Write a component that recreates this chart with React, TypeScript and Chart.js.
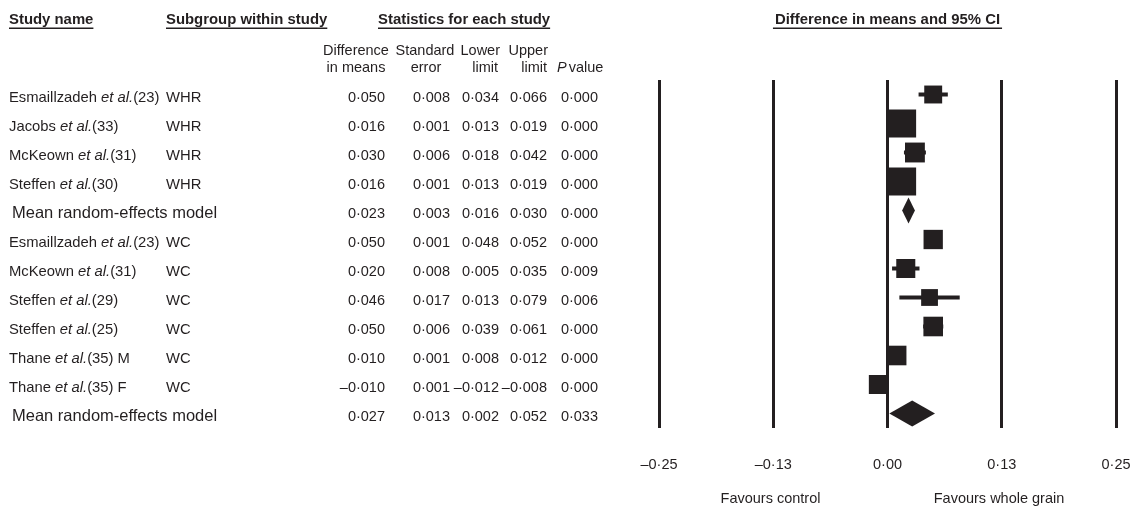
import React, { useEffect, useRef } from "react";
import { Chart, registerables } from "chart.js";

Chart.register(...registerables);

// ---------- data ----------
const studyAuthors = ["Esmaillzadeh", "Jacobs", "McKeown", "Steffen", "", "Esmaillzadeh", "McKeown", "Steffen", "Steffen", "Thane", "Thane", ""];
const studyRefs = ["(23)", "(33)", "(31)", "(30)", "", "(23)", "(31)", "(29)", "(25)", "(35) M", "(35) F", ""];
const subgroups = ["WHR", "WHR", "WHR", "WHR", "", "WC", "WC", "WC", "WC", "WC", "WC", ""];
const isSummary = [false, false, false, false, true, false, false, false, false, false, false, true];
const summaryLabel = "Mean random-effects model";
const diffMeans = [0.05, 0.016, 0.03, 0.016, 0.023, 0.05, 0.02, 0.046, 0.05, 0.01, -0.01, 0.027];
const stdErrors = [0.008, 0.001, 0.006, 0.001, 0.003, 0.001, 0.008, 0.017, 0.006, 0.001, 0.001, 0.013];
const lowerLimits = [0.034, 0.013, 0.018, 0.013, 0.016, 0.048, 0.005, 0.013, 0.039, 0.008, -0.012, 0.002];
const upperLimits = [0.066, 0.019, 0.042, 0.019, 0.03, 0.052, 0.035, 0.079, 0.061, 0.012, -0.008, 0.052];
const pValues = [0.0, 0.0, 0.0, 0.0, 0.0, 0.0, 0.009, 0.006, 0.0, 0.0, 0.0, 0.033];
// relative study weight (box size relative to the largest box)
const relativeWeights = [0.64, 1, 0.71, 1, 0, 0.69, 0.68, 0.6, 0.7, 0.7, 0.68, 0];

const xTickValues = [-0.25, -0.125, 0, 0.125, 0.25];
const xTickLabels = ["\u20130\u00b725", "\u20130\u00b713", "0\u00b700", "0\u00b713", "0\u00b725"];
const favourLabels = ["Favours control", "Favours whole grain"];
const favourAnchors = [-0.128, 0.122];

const FONT = '"Liberation Sans", Arial, Helvetica, sans-serif';
const INK = "#231f20";
const FS = 14.5;

function fmt(v: number): string {
  const s = Math.abs(v).toFixed(3).replace(".", "\u00b7");
  return v < 0 ? "\u2013" + s : s;
}

const forestPlugin = {
  id: "forestPlugin",
  beforeDatasetsDraw(chart: any) {
    const { ctx, scales } = chart;
    const xs = scales.x;
    const ys = scales.y;
    ctx.save();
    ctx.fillStyle = INK;
    ctx.strokeStyle = INK;
    for (let i = 0; i < diffMeans.length; i++) {
      const yp = ys.getPixelForValue(i);
      if (isSummary[i]) {
        const yt = ys.getPixelForValue(i - 0.45);
        const yb = ys.getPixelForValue(i + 0.45);
        ctx.beginPath();
        ctx.moveTo(xs.getPixelForValue(lowerLimits[i]), yp);
        ctx.lineTo(xs.getPixelForValue(diffMeans[i]), yt);
        ctx.lineTo(xs.getPixelForValue(upperLimits[i]), yp);
        ctx.lineTo(xs.getPixelForValue(diffMeans[i]), yb);
        ctx.closePath();
        ctx.fill();
      } else {
        ctx.lineWidth = 4;
        ctx.beginPath();
        ctx.moveTo(xs.getPixelForValue(lowerLimits[i]), yp);
        ctx.lineTo(xs.getPixelForValue(upperLimits[i]), yp);
        ctx.stroke();
      }
    }
    ctx.restore();
  },
  afterDraw(chart: any) {
    const { ctx, scales } = chart;
    const xs = scales.x;
    const ys = scales.y;
    ctx.save();
    ctx.fillStyle = INK;
    ctx.textBaseline = "alphabetic";

    // headers
    const bold = `bold 14.9px ${FONT}`;
    const reg = `${FS}px ${FONT}`;
    const nameReg = `14.8px ${FONT}`;
    const nameItal = `italic 14.8px ${FONT}`;
    const ital = `italic ${FS}px ${FONT}`;
    const headerUnderline = (text: string, x: number, align: "left" | "center", extra = 0) => {
      ctx.font = bold;
      ctx.textAlign = align;
      ctx.fillText(text, x, 24);
      const w = ctx.measureText(text).width + extra;
      const left = align === "center" ? x - w / 2 : x;
      ctx.fillRect(left, 27.5, w, 1.5);
    };
    headerUnderline("Study name", 9, "left");
    headerUnderline("Subgroup within study", 166, "left");
    headerUnderline("Statistics for each study", 378, "left");
    headerUnderline("Difference in means and 95% CI", xs.getPixelForValue(0), "center", 4);

    ctx.font = reg;
    ctx.textAlign = "center";
    ctx.fillText("Difference", 356, 55);
    ctx.fillText("in means", 356, 72);
    ctx.fillText("Standard", 425, 55);
    ctx.fillText("error", 426, 72);
    ctx.textAlign = "right";
    ctx.fillText("Lower", 500, 55);
    ctx.fillText("limit", 498, 72);
    ctx.fillText("Upper", 548, 55);
    ctx.fillText("limit", 547, 72);
    ctx.textAlign = "left";
    ctx.font = ital;
    ctx.fillText("P", 557, 72);
    const pw = ctx.measureText("P").width;
    ctx.font = reg;
    ctx.fillText("value", 557 + pw + 2, 72);

    // rows
    const numCols = [385, 450, 499, 547, 598];
    for (let i = 0; i < diffMeans.length; i++) {
      const base = ys.getPixelForValue(i) + 7;
      ctx.textAlign = "left";
      if (isSummary[i]) {
        ctx.font = `16.5px ${FONT}`;
        ctx.fillText(summaryLabel, 12, base);
      } else {
        let x = 9;
        ctx.font = nameReg;
        const a = studyAuthors[i] + " ";
        ctx.fillText(a, x, base);
        x += ctx.measureText(a).width;
        ctx.font = nameItal;
        ctx.fillText("et al.", x, base);
        x += ctx.measureText("et al.").width;
        ctx.font = nameReg;
        ctx.fillText(studyRefs[i], x, base);
        ctx.fillText(subgroups[i], 166, base);
      }
      ctx.font = reg;
      ctx.textAlign = "right";
      const vals = [diffMeans[i], stdErrors[i], lowerLimits[i], upperLimits[i], pValues[i]];
      vals.forEach((v, k) => ctx.fillText(fmt(v), numCols[k], base));
    }

    // favour labels
    ctx.font = reg;
    ctx.textAlign = "center";
    favourLabels.forEach((t, k) => ctx.fillText(t, xs.getPixelForValue(favourAnchors[k]), 503));
    ctx.restore();
  },
};

export default function App() {
  const ref = useRef<HTMLCanvasElement>(null);
  useEffect(() => {
    document.body.style.margin = "0";
    const canvas = ref.current;
    if (!canvas) return;
    const idx = diffMeans.map((_, i) => i).filter((i) => !isSummary[i]);
    const chart = new Chart(canvas, {
      type: "scatter",
      data: {
        datasets: [
          {
            data: idx.map((i) => ({ x: diffMeans[i], y: i })),
            pointStyle: "rect",
            pointRadius: idx.map((i) => (28 * relativeWeights[i]) / Math.SQRT2),
            pointBackgroundColor: INK,
            pointBorderWidth: 0,
            pointHoverRadius: idx.map((i) => (28 * relativeWeights[i]) / Math.SQRT2),
          },
        ],
      },
      options: {
        animation: false,
        responsive: false,
        devicePixelRatio: 1,
        events: [],
        layout: { autoPadding: false, padding: { left: 659, right: 16, top: 80, bottom: 34 } },
        plugins: { legend: { display: false }, tooltip: { enabled: false } },
        scales: {
          x: {
            type: "linear",
            min: -0.25,
            max: 0.25,
            afterBuildTicks: (axis: any) => {
              axis.ticks = xTickValues.map((v) => ({ value: v }));
            },
            afterFit: (axis: any) => {
              axis.paddingLeft = 0;
              axis.paddingRight = 0;
              axis.paddingTop = 0;
              axis.paddingBottom = 0;
              axis.height = 45;
            },
            ticks: {
              padding: 28,
              color: INK,
              font: { family: FONT, size: FS },
              maxRotation: 0,
              autoSkip: false,
              callback: (v: any) => {
                const k = xTickValues.indexOf(Number(v));
                return k >= 0 ? xTickLabels[k] : "";
              },
            },
            grid: { color: INK, lineWidth: 3, drawTicks: false },
            border: { display: false },
          },
          y: {
            type: "linear",
            min: -0.5,
            max: 11.5,
            reverse: true,
            display: false,
          },
        },
      },
      plugins: [forestPlugin],
    });
    return () => chart.destroy();
  }, []);
  return (
    <div style={{ width: 1132, height: 507, background: "#fff" }}>
      <canvas ref={ref} width={1132} height={507} style={{ display: "block" }} />
    </div>
  );
}
